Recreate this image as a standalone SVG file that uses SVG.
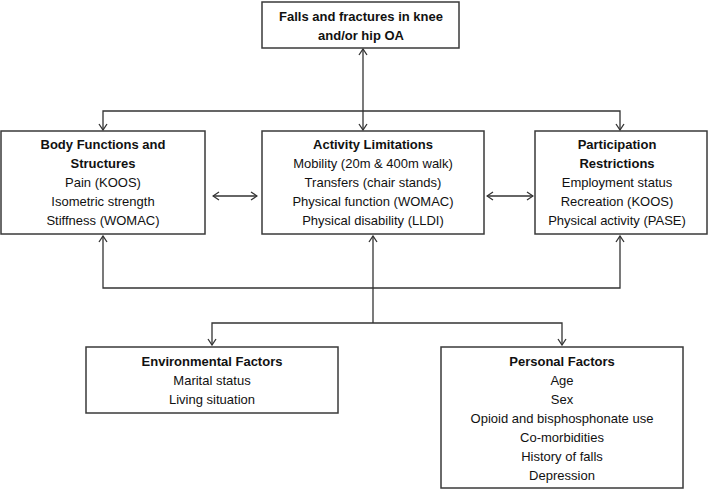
<svg xmlns="http://www.w3.org/2000/svg" width="709" height="491" viewBox="0 0 709 491">
<style>
.box{fill:#fff;stroke:#3a3a3a;stroke-width:1.5}
.h{font-family:"Liberation Sans",Arial,sans-serif;font-size:13px;font-weight:bold;fill:#111;text-anchor:middle}
.t{font-family:"Liberation Sans",Arial,sans-serif;font-size:13px;fill:#111;text-anchor:middle}
.c{fill:none;stroke:#333;stroke-width:1.3}
</style>
<defs>
<marker id="ar" viewBox="-7 -5 8 10" refX="0" refY="0" markerWidth="8" markerHeight="10" markerUnits="userSpaceOnUse" orient="auto-start-reverse">
<path d="M-6,-4 L0,0 L-6,4" fill="none" stroke="#333" stroke-width="1.3"/>
</marker>
</defs>
<rect width="709" height="491" fill="#fff"/>
<g id="connectors">
<line class="c" x1="363" y1="49" x2="363" y2="130" marker-start="url(#ar)" marker-end="url(#ar)"/>
<polyline class="c" points="103,130 103,111 620,111 620,130" marker-start="url(#ar)" marker-end="url(#ar)"/>
<polyline class="c" points="103,236 103,288 620,288 620,236" marker-start="url(#ar)" marker-end="url(#ar)"/>
<line class="c" x1="373" y1="323" x2="373" y2="236" marker-end="url(#ar)"/>
<polyline class="c" points="212,345 212,323 562,323 562,345" marker-start="url(#ar)" marker-end="url(#ar)"/>
<line class="c" x1="213" y1="196" x2="257" y2="196" marker-start="url(#ar)" marker-end="url(#ar)"/>
<line class="c" x1="487" y1="196" x2="533" y2="196" marker-start="url(#ar)" marker-end="url(#ar)"/>
</g>
<g id="falls">
<rect class="box" x="262" y="2" width="197" height="46"/>
<text class="h" x="361" y="21">Falls and fractures in knee</text>
<text class="h" x="361" y="40">and/or hip OA</text>
</g>
<g id="body">
<rect class="box" x="1" y="131" width="204" height="103"/>
<text class="h" x="103" y="149">Body Functions and</text>
<text class="h" x="103" y="168">Structures</text>
<text class="t" x="103" y="187">Pain (KOOS)</text>
<text class="t" x="103" y="206">Isometric strength</text>
<text class="t" x="103" y="225">Stiffness (WOMAC)</text>
</g>
<g id="activity">
<rect class="box" x="262" y="131" width="222" height="103"/>
<text class="h" x="373" y="149">Activity Limitations</text>
<text class="t" x="373" y="168">Mobility (20m &amp; 400m walk)</text>
<text class="t" x="373" y="187">Transfers (chair stands)</text>
<text class="t" x="373" y="206">Physical function (WOMAC)</text>
<text class="t" x="373" y="225">Physical disability (LLDI)</text>
</g>
<g id="participation">
<rect class="box" x="535" y="131" width="172" height="103"/>
<text class="h" x="617" y="149">Participation</text>
<text class="h" x="617" y="168">Restrictions</text>
<text class="t" x="617" y="187">Employment status</text>
<text class="t" x="617" y="206">Recreation (KOOS)</text>
<text class="t" x="617" y="225">Physical activity (PASE)</text>
</g>
<g id="environmental">
<rect class="box" x="86" y="347" width="252" height="66"/>
<text class="h" x="212" y="366">Environmental Factors</text>
<text class="t" x="212" y="385">Marital status</text>
<text class="t" x="212" y="404">Living situation</text>
</g>
<g id="personal">
<rect class="box" x="441" y="347" width="242" height="141"/>
<text class="h" x="562" y="366">Personal Factors</text>
<text class="t" x="562" y="385">Age</text>
<text class="t" x="562" y="404">Sex</text>
<text class="t" x="562" y="423">Opioid and bisphosphonate use</text>
<text class="t" x="562" y="442">Co-morbidities</text>
<text class="t" x="562" y="461">History of falls</text>
<text class="t" x="562" y="480">Depression</text>
</g>
</svg>
